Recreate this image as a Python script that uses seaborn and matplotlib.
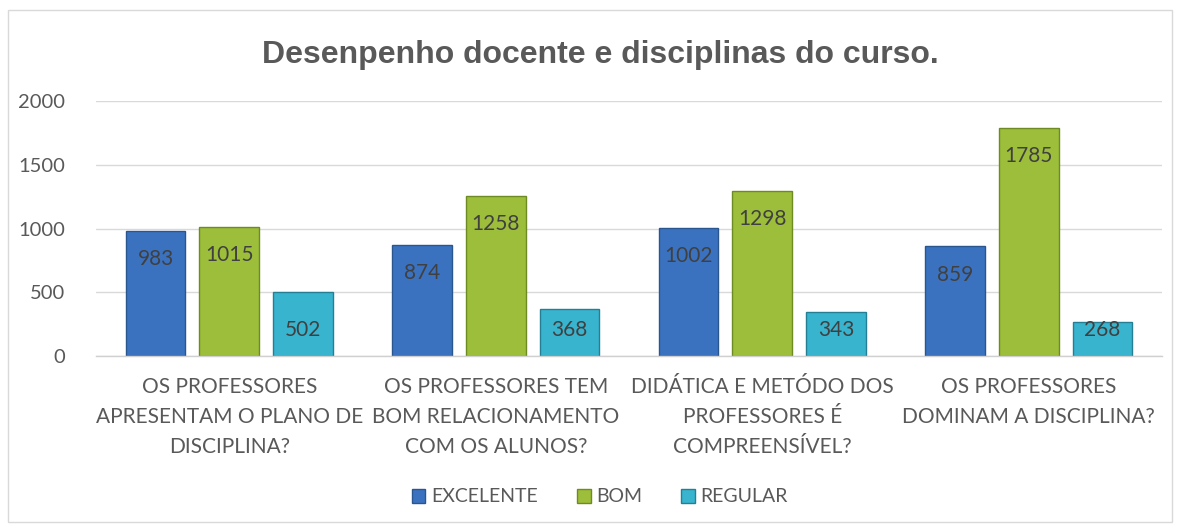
import matplotlib
matplotlib.use("Agg")
import matplotlib.pyplot as plt
import seaborn as sns
import pandas as pd
from matplotlib.patches import Rectangle

categories = ["OS PROFESSORES\nAPRESENTAM O PLANO DE\nDISCIPLINA?",
              "OS PROFESSORES TEM\nBOM RELACIONAMENTO\nCOM OS ALUNOS?",
              "DIDÁTICA E METÓDO DOS\nPROFESSORES É\nCOMPREENSÍVEL?",
              "OS PROFESSORES\nDOMINAM A DISCIPLINA?"]
series = ["EXCELENTE", "BOM", "REGULAR"]
excelente = [983, 874, 1002, 859]
bom = [1015, 1258, 1298, 1785]
regular = [502, 368, 343, 268]
yticks = [0, 500, 1000, 1500, 2000]
title = "Desenpenho docente e disciplinas do curso."

rows = []
for s, vals in zip(series, [excelente, bom, regular]):
    for c, v in zip(categories, vals):
        rows.append({"cat": c, "serie": s, "valor": v})
df = pd.DataFrame(rows)

sns.set_theme(style="white")
plt.rcParams['font.family'] = ['Lato', 'DejaVu Sans']

colors = {"EXCELENTE": "#3B72C0", "BOM": "#9DBE3A", "REGULAR": "#38B4CF"}
edges = {"EXCELENTE": "#2A568F", "BOM": "#6E8A22", "REGULAR": "#247F94"}

fig = plt.figure(figsize=(11.8, 5.32), dpi=100)
ax = fig.add_axes([96/1180, 1-356/532, (1162-96)/1180, (356-101)/532])
sns.barplot(data=df, x="cat", y="valor", hue="serie", palette=colors,
            width=0.83, gap=0.19, ax=ax, legend=True, saturation=1)

for cont, s in zip(ax.containers, series):
    for bar in cont:
        bar.set_edgecolor(edges[s])
        bar.set_linewidth(1.0)
        v = bar.get_height()
        y = v - 220 if v > 600 else 205
        ax.text(bar.get_x() + bar.get_width()/2, y, f"{int(v)}",
                ha="center", va="center", fontsize=15, color="#404040")

ax.set_ylim(0, 2000)
ax.set_yticks(yticks)
ax.set_yticklabels([str(t) for t in yticks], fontsize=14.5, color="#595959")
ax.set_xlim(-0.5, 3.5)
ax.set_xticks(range(4))
ax.set_xticklabels(categories, fontsize=15, color="#595959", linespacing=1.62, va="top")
ax.tick_params(axis="y", length=0, pad=22)
ax.tick_params(axis="x", length=0, pad=15)
ax.set_xlabel("")
ax.set_ylabel("")
ax.yaxis.grid(True, color="#D9D9D9", linewidth=1)
ax.set_axisbelow(True)
for sp in ["top", "right", "left"]:
    ax.spines[sp].set_visible(False)
ax.spines["bottom"].set_color("#D0D0D0")
ax.spines["bottom"].set_linewidth(1)

ax.legend_.remove()
handles = [Rectangle((0, 0), 1, 1, facecolor=colors[s], edgecolor=edges[s]) for s in series]
fig.legend(handles, series, loc="center", bbox_to_anchor=(600/1180, 1-497/532),
           ncol=3, frameon=False, fontsize=14, labelcolor="#595959",
           handlelength=0.7, handleheight=0.7, handletextpad=0.3, columnspacing=2.0)

fig.text(600/1180, 1-55/532, title, ha="center", va="center", fontsize=23,
         fontweight="bold", color="#595959", family=["Liberation Sans", "DejaVu Sans"])

fig.patches.append(Rectangle((8/1180, 1-522/532), 1164/1180, 512/532, transform=fig.transFigure,
                             fill=False, edgecolor="#D9D9D9", linewidth=1))

fig.savefig("out.png", dpi=100)
